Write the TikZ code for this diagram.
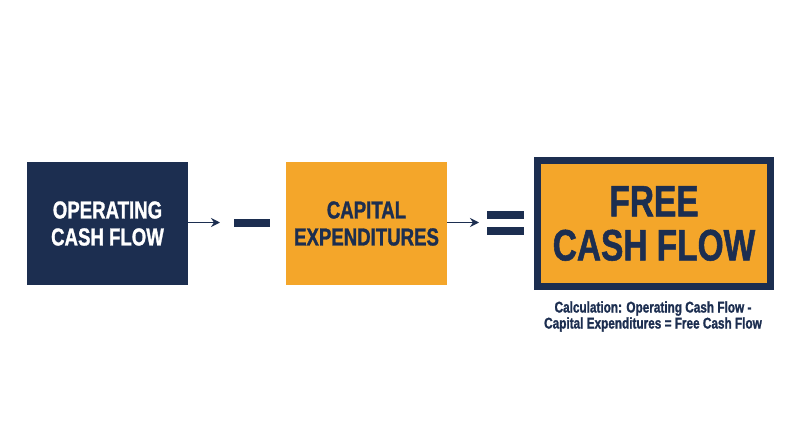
\documentclass[tikz,border=0pt]{standalone}
\usepackage{fontspec}
\setmainfont{Liberation Sans}[FakeStretch=0.76, BoldFeatures={FakeBold=1.2}]
\usetikzlibrary{arrows.meta}
\definecolor{navy}{HTML}{1C2E50}
\definecolor{gold}{HTML}{F4A62A}
\tikzset{
  box/.style={rectangle, minimum width=161pt, minimum height=123pt, inner sep=0pt, align=center, font=\bfseries\fontsize{24.5}{27}\selectfont},
  bar/.style={rectangle, fill=navy, inner sep=0pt, minimum width=37pt, minimum height=8pt},
  conn/.style={draw=navy, line width=1.8pt, -{Stealth[length=9pt,width=9pt]}},
}
\begin{document}
\begin{tikzpicture}[x=1pt,y=-1pt]
\useasboundingbox[fill=white] (0,0) rectangle (800,447);
\node[box, fill=navy, text=white] (ocf) at (107.5,223.5) {OPERATING\\CASH FLOW};
\node[bar, minimum width=36pt] (minus) at (252,222.5) {};
\node[box, fill=gold, text=navy] (capex) at (366.5,223.5) {CAPITAL\\EXPENDITURES};
\node[bar] (eqtop) at (505.5,214.5) {};
\node[bar] (eqbot) at (505.5,231) {};
\node[rectangle, fill=gold, draw=navy, line width=7pt, minimum width=233pt, minimum height=126pt, inner sep=0pt, align=center, text=navy, font=\bfseries\fontsize{44}{44}\selectfont] (fcf) at (654,223.5) {FREE\\CASH FLOW};
\coordinate (a1) at (220,222.5);
\coordinate (a2) at (479,222.5);
\draw[conn] (ocf.east |- a1) -- (a1);
\draw[conn] (capex.east |- a2) -- (a2);
\node[align=center, text=navy, font=\bfseries\fontsize{15.5}{16}\selectfont, inner sep=0pt] (calc) at (653,316.5) {Calculation: Operating Cash Flow -\\Capital Expenditures = Free Cash Flow};
\end{tikzpicture}
\end{document}
